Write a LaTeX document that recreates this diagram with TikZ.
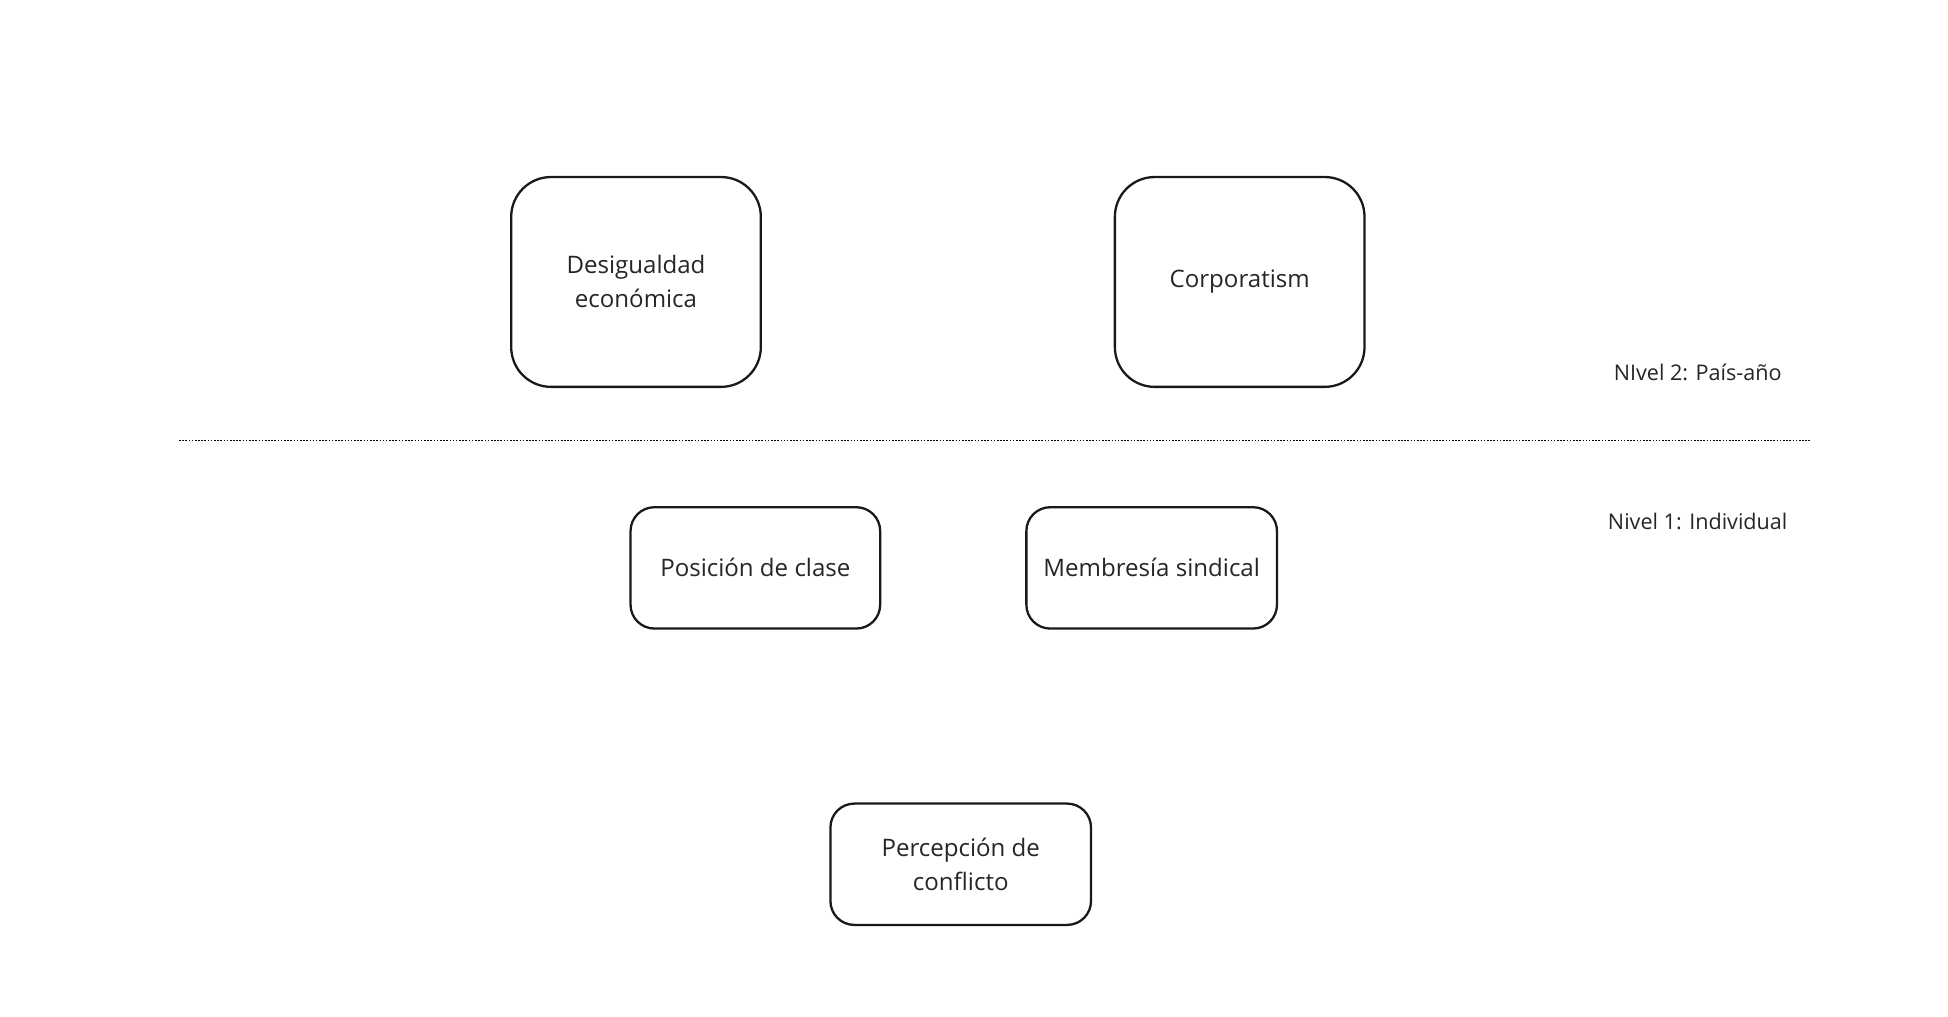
\documentclass[tikz,border=0pt]{standalone}
\usepackage{fontspec}
\setmainfont{Open Sans}
\begin{document}
\begin{tikzpicture}[x=1pt,y=-1pt,
  bigbox/.style={draw=black!90,line width=2.3pt,rounded corners=40pt,minimum width=251pt,minimum height=211pt,align=center,inner sep=0pt,font=\fontsize{24.2}{34.2}\selectfont,text=black!85},
  smallbox/.style={draw=black!90,line width=2.3pt,rounded corners=24pt,minimum height=122pt,align=center,inner sep=0pt,font=\fontsize{24.2}{34.2}\selectfont,text=black!85},
  lvl/.style={font=\fontsize{21.7}{28}\selectfont,text=black!85,inner sep=0pt}]
\useasboundingbox (0,0) rectangle (1958.7,1021.6);
\fill[white] (0,0) rectangle (1958.7,1021.6);
\node[bigbox] (des) at (639.5,283.5) {Desigualdad\\económica};
\node[bigbox] (cor) at (1246.5,283.5) {Corporatism};
\node[smallbox,minimum width=251pt] (pos) at (759.5,571) {Posición de clase};
\node[smallbox,minimum width=252pt] (mem) at (1158,571) {Membresía sindical};
\node[smallbox,minimum width=262pt] (per) at (966,869) {Percepción de\\conflicto};
\node[lvl] (n2) at (1707,374) {NIvel 2: País-año};
\node[lvl] (n1) at (1707,524) {Nivel 1: Individual};
\coordinate (la) at (180,443);
\coordinate (lb) at (1820,443);
\draw[black,line width=1.7pt,dash pattern=on 1.6pt off 1.6pt] (la) -- (lb);
\end{tikzpicture}
\end{document}
